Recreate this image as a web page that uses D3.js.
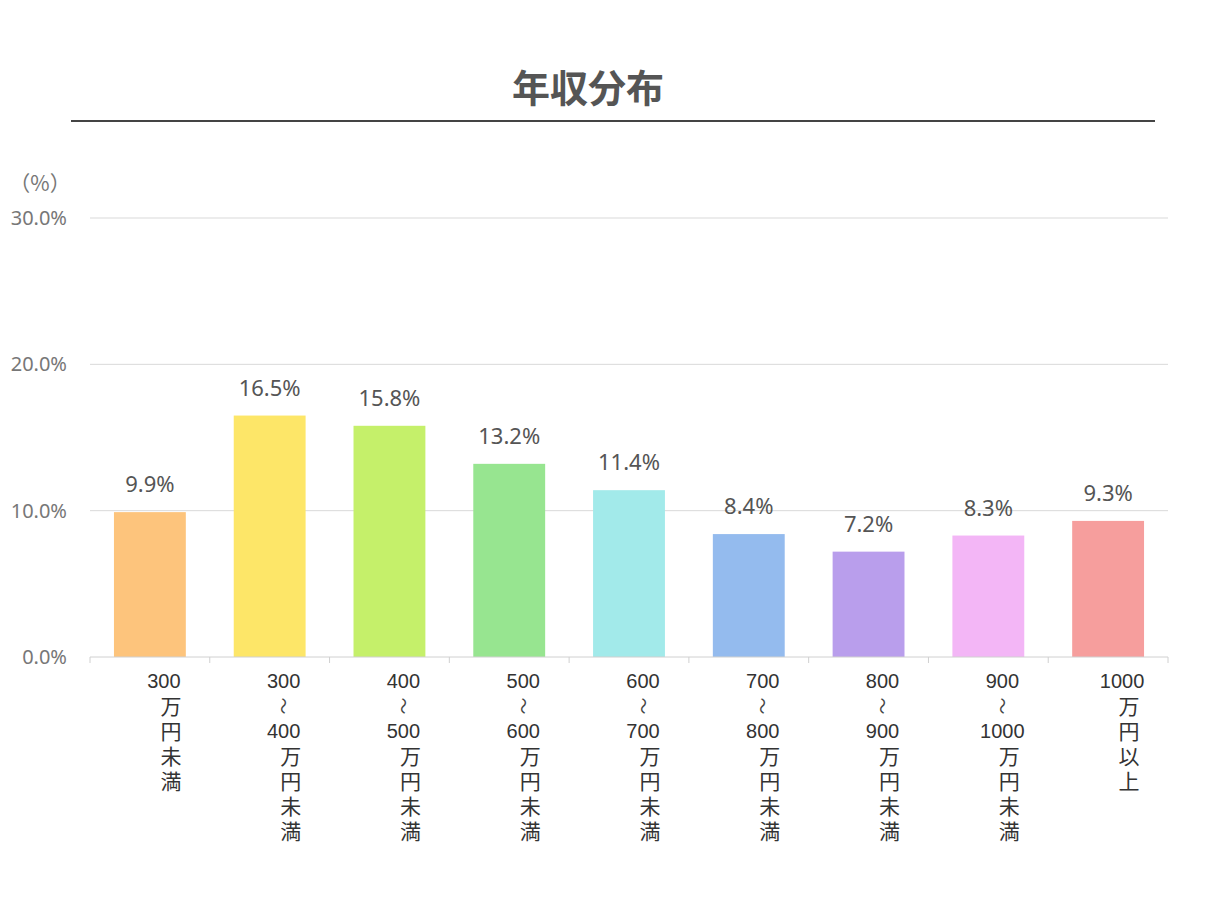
<!DOCTYPE html>
<html>
<head>
<meta charset="utf-8">
<script src="https://cdn.jsdelivr.net/npm/d3@7"></script>
<style>
  body { margin: 0; background: #fff; }
  text { font-family: "Noto Sans CJK JP", "Noto Sans", sans-serif; }
  text.cat { font-family: "Liberation Sans", "Noto Sans CJK JP", sans-serif; }
</style>
</head>
<body>
<div id="chart"></div>
<script>
// chart data
var categories = ["300万円未満", "300〜400万円未満", "400〜500万円未満", "500〜600万円未満",
  "600〜700万円未満", "700〜800万円未満", "800〜900万円未満", "900〜1000万円未満", "1000万円以上"];
var values = [9.9, 16.5, 15.8, 13.2, 11.4, 8.4, 7.2, 8.3, 9.3];
var barColors = ["#fdc47c", "#fde668", "#c5f06a", "#97e590", "#a2eaea", "#94bbee", "#b99eec", "#f3b6f6", "#f69e9d"];
var yTicks = [0, 10, 20, 30];
var title = "年収分布";
var unitLabel = "（%）";

var svgWidth = 1210;
var svgHeight = 900;

var margin = { top: 218, right: 42, bottom: 243, left: 90 };
var width = svgWidth - margin.left - margin.right;
var height = svgHeight - margin.top - margin.bottom;

var svg = d3.select("#chart")
  .append("svg")
  .attr("width", svgWidth)
  .attr("height", svgHeight);

// title + rule underneath
svg.append("text")
  .attr("x", 588)
  .attr("y", 102)
  .attr("text-anchor", "middle")
  .style("font-size", "38px")
  .style("font-weight", "bold")
  .style("fill", "#555")
  .text(title);

svg.append("line")
  .attr("x1", 71).attr("x2", 1155)
  .attr("y1", 121).attr("y2", 121)
  .attr("stroke", "#444")
  .attr("stroke-width", 2);

var chartGroup = svg.append("g")
  .attr("transform", "translate(" + margin.left + "," + margin.top + ")");

var xScale = d3.scaleBand()
  .domain(categories)
  .range([0, width])
  .paddingInner(0.4)
  .paddingOuter(0.2);

var yScale = d3.scaleLinear()
  .domain([0, 30])
  .range([height, 0]);

// gridlines
chartGroup.append("g")
  .selectAll("line")
  .data(yTicks.filter(d => d > 0))
  .enter()
  .append("line")
  .attr("x1", 0).attr("x2", width)
  .attr("y1", d => yScale(d)).attr("y2", d => yScale(d))
  .attr("stroke", "#d9d9d9")
  .attr("stroke-width", 1);

// y axis labels
var leftAxis = d3.axisLeft(yScale)
  .tickValues(yTicks)
  .tickFormat(d => d.toFixed(1) + "%")
  .tickSize(0)
  .tickPadding(23);

var yAxisG = chartGroup.append("g").call(leftAxis);
yAxisG.select(".domain").remove();
yAxisG.selectAll("text")
  .style("font-size", "20px")
  .style("fill", "#777")
  .style("font-family", "'Noto Sans', sans-serif");

svg.append("text")
  .attr("x", 40)
  .attr("y", 191)
  .attr("text-anchor", "middle")
  .style("font-size", "21px")
  .style("fill", "#777")
  .text(unitLabel);

// bars
chartGroup.selectAll("rect.bar")
  .data(values)
  .enter()
  .append("rect")
  .attr("class", "bar")
  .attr("x", (d, i) => xScale(categories[i]))
  .attr("y", d => yScale(d))
  .attr("width", xScale.bandwidth())
  .attr("height", d => height - yScale(d))
  .attr("fill", (d, i) => barColors[i]);

// value labels
chartGroup.selectAll("text.val")
  .data(values)
  .enter()
  .append("text")
  .attr("class", "val")
  .attr("x", (d, i) => xScale(categories[i]) + xScale.bandwidth() / 2)
  .attr("y", d => yScale(d) - 20)
  .attr("text-anchor", "middle")
  .style("font-size", "22px")
  .style("fill", "#555")
  .style("font-family", "'Noto Sans', sans-serif")
  .text(d => d.toFixed(1) + "%");

// x axis line and ticks at band boundaries
chartGroup.append("line")
  .attr("x1", 0).attr("x2", width)
  .attr("y1", height).attr("y2", height)
  .attr("stroke", "#d0d0d0");

var gap = (xScale.step() - xScale.bandwidth()) / 2;
var bounds = categories.map(c => xScale(c) - gap).concat([width]);
chartGroup.selectAll("line.tick")
  .data(bounds)
  .enter()
  .append("line")
  .attr("class", "tick")
  .attr("x1", d => d).attr("x2", d => d)
  .attr("y1", height).attr("y2", height + 6)
  .attr("stroke", "#d0d0d0");

// vertical (stacked) category labels, one text per category
var lineH = 25;
categories.forEach(function (c, i) {
  var cx = xScale(c) + xScale.bandwidth() / 2;
  var tokens = c.match(/\d+|./g);
  var label = chartGroup.append("text")
    .attr("class", "cat")
    .attr("text-anchor", "middle")
    .style("fill", "#333");
  tokens.forEach(function (t, j) {
    var y = height + 24 + j * lineH;
    if (t === "〜") {
      // wave dash turned upright, like vertical writing
      label.append("tspan")
        .attr("x", cx + 14 + 0.12 * 17)
        .attr("y", y - 0.5 * 17)
        .attr("rotate", 90)
        .style("font-size", "17px")
        .style("fill", "#444")
        .text(t);
    } else if (/\d/.test(t)) {
      label.append("tspan")
        .attr("x", cx + 14)
        .attr("y", y + 7)
        .style("font-size", "20px")
        .text(t);
    } else {
      label.append("tspan")
        .attr("x", cx + 21)
        .attr("y", y + 8)
        .style("font-size", "21px")
        .text(t);
    }
  });
});
</script>
</body>
</html>
